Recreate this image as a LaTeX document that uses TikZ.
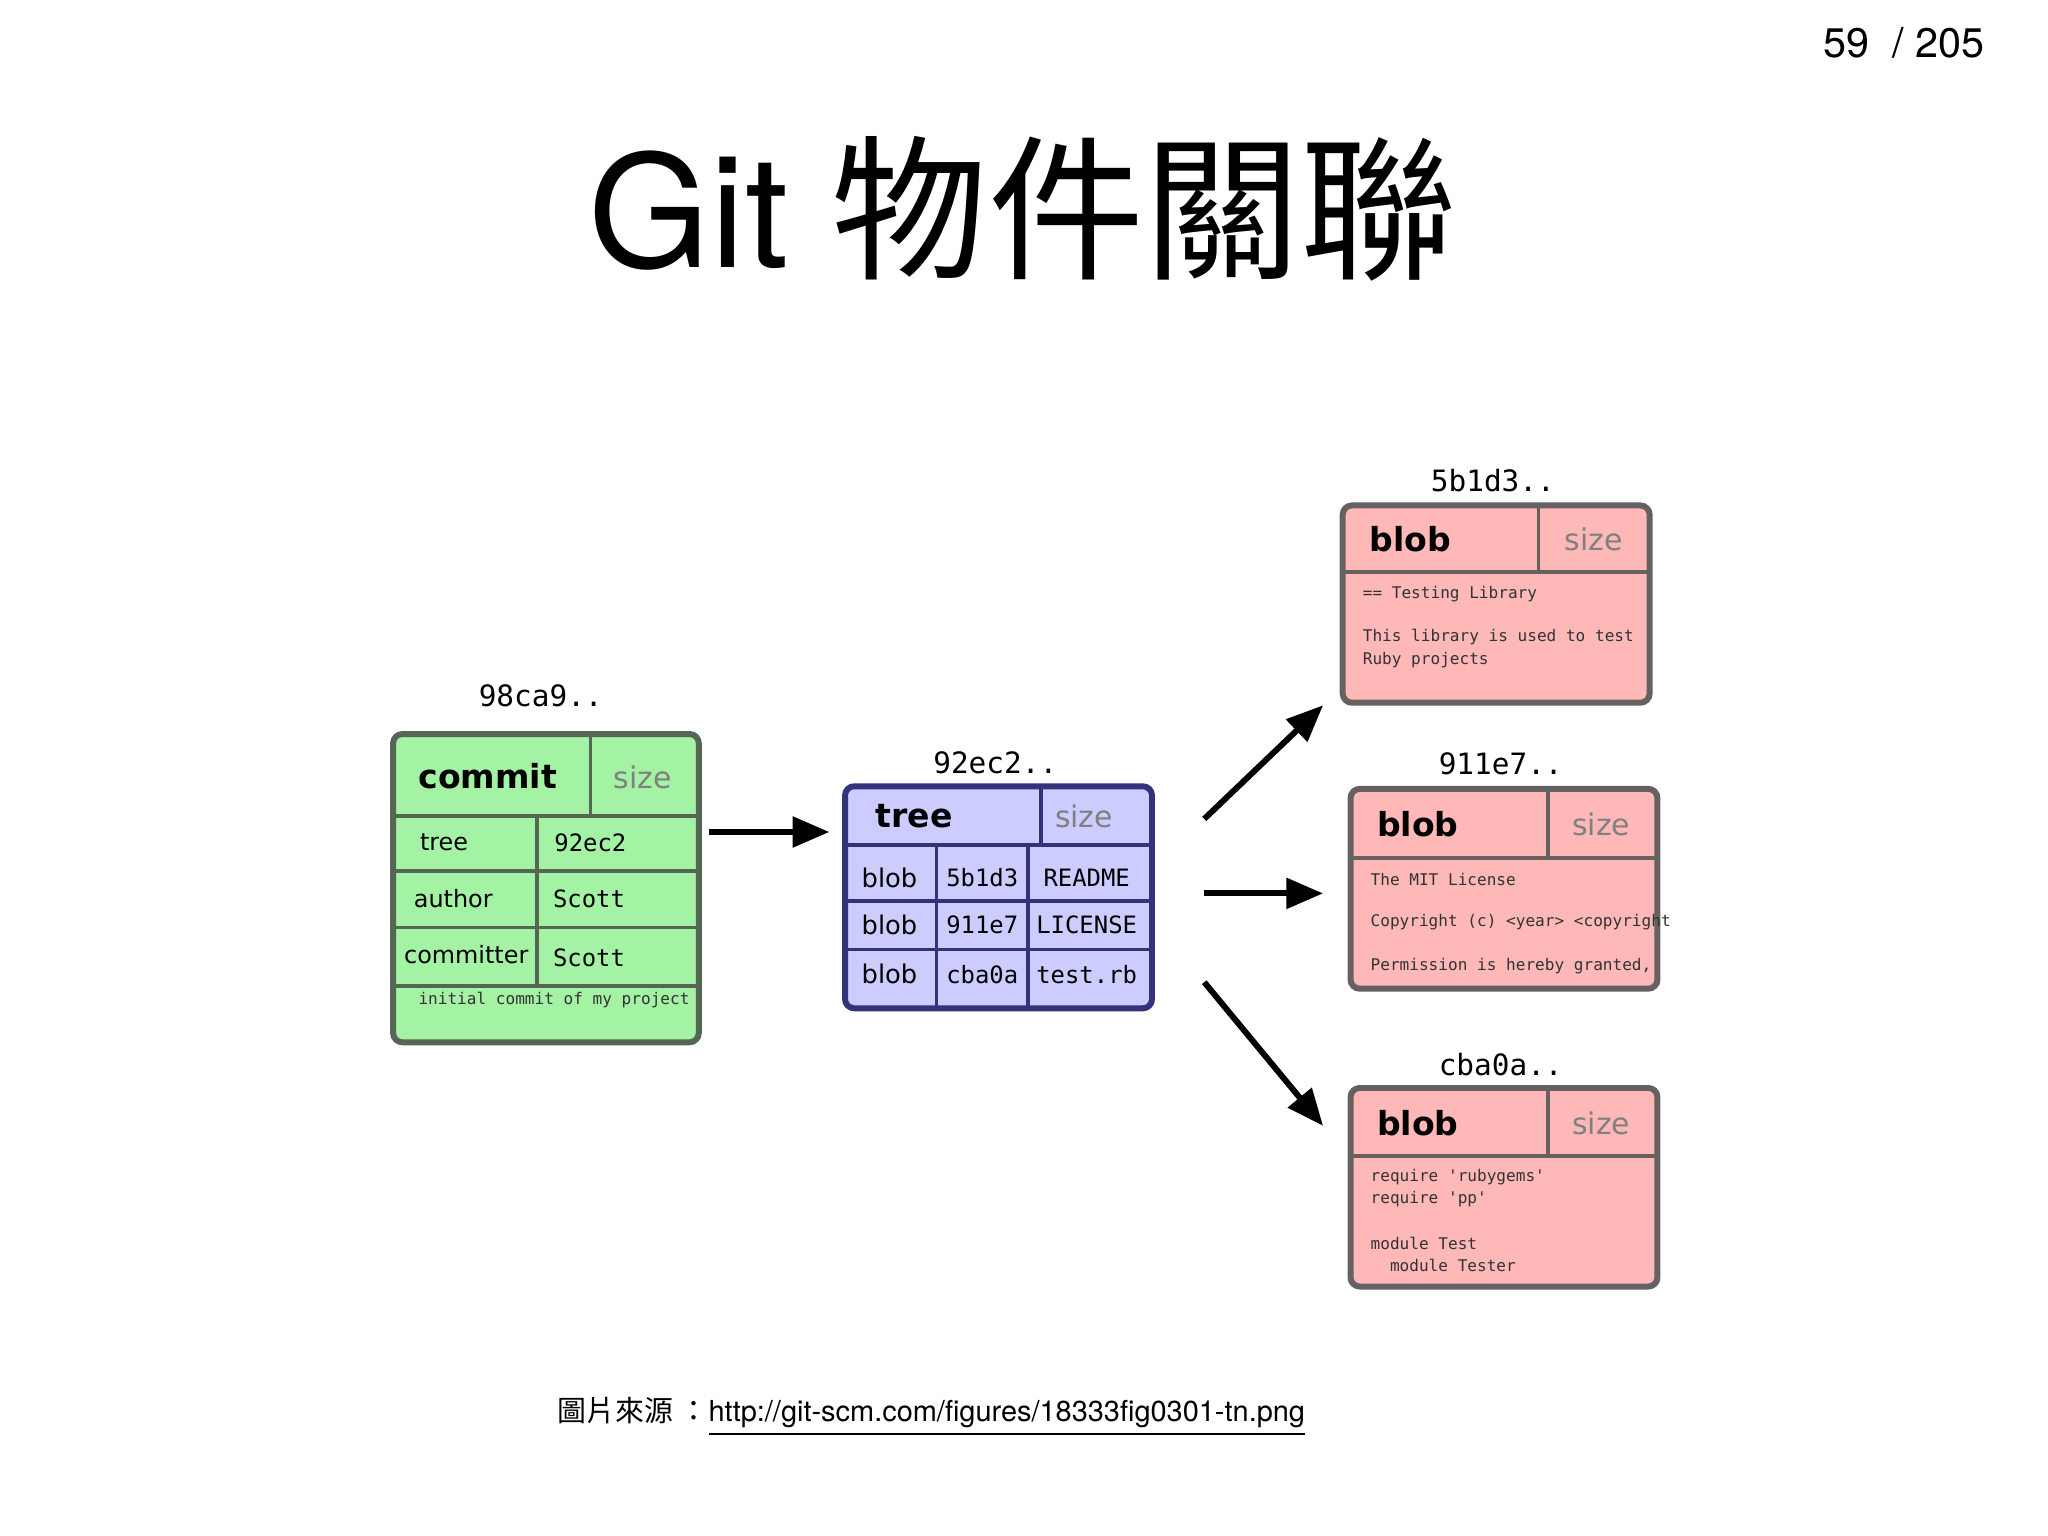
\documentclass[tikz,border=0pt]{standalone}
\usepackage{fontspec}
\setmainfont{TeX Gyre Heros}
\newfontfamily\cjk{Noto Sans CJK TC}
\newfontfamily\mono{DejaVu Sans Mono}
\newfontfamily\bsans{DejaVu Sans}
\usetikzlibrary{arrows.meta}
\definecolor{gfill}{HTML}{A4F2A4}
\definecolor{gline}{HTML}{556655}
\definecolor{pfill}{HTML}{CCCCFF}
\definecolor{pline}{HTML}{33337A}
\definecolor{rfill}{HTML}{FFB8B8}
\definecolor{rline}{HTML}{666060}
\begin{document}
\begin{tikzpicture}[x=0.01cm,y=-0.01cm,
  box/.style={draw=#1,line width=1.3pt,rounded corners=2pt},
  cell/.style={draw=#1,line width=0.8pt},
  hdr/.style={font=\bsans\bfseries\fontsize{7.2}{9}\selectfont,anchor=west},
  sz/.style={font=\bsans\fontsize{6.5}{8}\selectfont,text=gray},
  lab/.style={font=\mono\fontsize{6.4}{8}\selectfont},
  val/.style={font=\mono\fontsize{5.2}{6}\selectfont},
  small/.style={font=\mono\fontsize{3.5}{4.5}\selectfont,anchor=west,text=black!80},
  cv/.style={font=\bsans\fontsize{5.2}{6}\selectfont},
  arr/.style={-{Triangle[length=8pt,width=6.5pt]},line width=1.3pt}]
\useasboundingbox (0,0) rectangle (1568,1176);
\node[font=\fontsize{9}{11}\selectfont,anchor=east] (pg) at (1532,33) {59 \ / 205};
\node[font=\fontsize{34}{38}\selectfont] (title) at (783,160) {Git {\cjk 物件關聯}};
% commit
\node[lab] (c1) at (414,533) {98ca9..};
\filldraw[fill=gfill,box=gline] (301,562) rectangle (535,798);
\draw[cell=gline] (301,625) -- (535,625) (301,667)--(535,667) (301,710)--(535,710) (301,755)--(535,755)
  (452,562)--(452,625) (411,625)--(411,755);
\node[hdr] (ch) at (308,594) {commit};
\node[sz] (cs) at (492,595) {size};
\node[cv] at (340,645) {tree};
\node[val] at (452,645) {92ec2};
\node[cv] at (347,688) {author};
\node[val] at (451,688) {Scott};
\node[cv] at (357,731) {committer};
\node[val] at (451,733) {Scott};
\node[small] at (308,766) {initial commit of my project};
% tree
\node[lab] (t1) at (762,584) {92ec2..};
\filldraw[fill=pfill,box=pline] (647,602) rectangle (882,772);
\draw[cell=pline] (647,647)--(882,647) (647,690)--(882,690) (647,727)--(882,727)
  (797,602)--(797,647) (717,647)--(717,772) (787,647)--(787,772);
\node[hdr] (th) at (658,625) {tree};
\node[sz] at (830,625) {size};
\foreach \y/\h/\n in {672/5b1d3/README,708/911e7/LICENSE,746/cba0a/test.rb}{
  \node[cv,font=\bsans\fontsize{5.6}{7}\selectfont] at (681,\y) {blob};
  \node[val] at (752,\y) {\h};
  \node[val] at (832,\y) {\n};}
% blobs
\filldraw[fill=rfill,box=rline] (1028,387) rectangle (1263,538);
\draw[cell=rline] (1028,438)--(1263,438) (1178,387)--(1178,438);
\node[lab] (b1) at (1143,368) {5b1d3..};
\node[hdr] at (1036,413) {blob};
\node[sz] at (1220,413) {size};
\node[small] at (1031,455) {== Testing Library};
\node[small] at (1031,488) {This library is used to test};
\node[small] at (1031,505) {Ruby projects};

\filldraw[fill=rfill,box=rline] (1034,604) rectangle (1269,757);
\draw[cell=rline] (1034,657)--(1269,657) (1185,604)--(1185,657);
\node[lab] (b2) at (1149,585) {911e7..};
\node[hdr] at (1042,631) {blob};
\node[sz] at (1226,631) {size};
\node[small] at (1037,673) {The MIT License};
\node[small] at (1037,706) {Copyright (c) <year> <copyright};
\node[small] at (1037,740) {Permission is hereby granted,};

\filldraw[fill=rfill,box=rline] (1034,833) rectangle (1269,985);
\draw[cell=rline] (1034,885)--(1269,885) (1185,833)--(1185,885);
\node[lab] (b3) at (1149,815) {cba0a..};
\node[hdr] at (1042,860) {blob};
\node[sz] at (1226,860) {size};
\node[small] at (1037,901) {require 'rubygems'};
\node[small] at (1037,918) {require 'pp'};
\node[small] at (1037,952) {module Test};
\node[small] at (1037,969) {\ \ module Tester};
% arrows
\coordinate (a1s) at (543,637); \coordinate (a1e) at (635,637);
\coordinate (a2s) at (922,627); \coordinate (a2e) at (1013,540);
\coordinate (a3s) at (922,684); \coordinate (a3e) at (1013,684);
\coordinate (a4s) at (922,752); \coordinate (a4e) at (1013,862);
\draw[arr] (a1s)--(a1e);
\draw[arr] (a2s)--(a2e);
\draw[arr] (a3s)--(a3e);
\draw[arr] (a4s)--(a4e);
\node[font=\fontsize{6.3}{8}\selectfont] (src) at (713,1085) {{\cjk 圖片來源 ：}\underline{http://git-scm.com/figures/18333fig0301-tn.png}};
\end{tikzpicture}
\end{document}
